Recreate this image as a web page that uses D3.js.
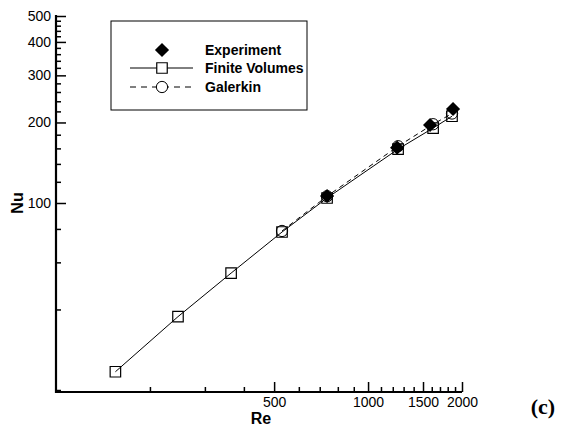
<!DOCTYPE html>
<html>
<head>
<meta charset="utf-8">
<script src="https://cdn.jsdelivr.net/npm/d3@7"></script>
<style>
  body { margin: 0; background: #fff; }
  svg { display: block; }
  text { font-family: "Liberation Sans", Arial, sans-serif; fill: #000; }
</style>
</head>
<body>
<svg id="chart" width="562" height="430"></svg>
<script>
// Reynolds numbers and Nusselt numbers for the three data sets
const reFV = [155, 246, 364, 530, 739, 1248, 1616, 1858];
const nuFV = [23.4, 37.6, 54.7, 77.9, 104.4, 159, 190.6, 211];

const reGalerkin = [530, 739, 1248, 1616, 1858];
const nuGalerkin = [78.6, 106, 163, 197, 216];

const reExp = [739, 1239, 1580, 1872];
const nuExp = [106.2, 161, 195.7, 224.6];

// Axis ticks
const xMajorTicks = [500, 1000, 1500, 2000];
const xMinorTicks = [200, 300, 400, 600, 700, 800, 900, 1100, 1200, 1300, 1400, 1600, 1700, 1800, 1900];
const yMajorTicks = [100, 200, 300, 400, 500];
const yMinorTicks = [20, 40, 60, 80, 120, 140, 160, 180, 220, 240, 260, 280, 320, 340, 360, 380, 420, 440, 460, 480];

const seriesNames = ["Experiment", "Finite Volumes", "Galerkin"];

const svg = d3.select("#chart");

const x = d3.scaleLog().domain([100, 2000]).range([56, 462]);
const y = d3.scaleLog().domain([20, 500]).range([390, 16]);

const x0 = 56, y0 = 392;

// Lines
const line = d3.line().x(d => x(d[0])).y(d => y(d[1]));

svg.append("path")
  .datum(d3.zip(reFV, nuFV))
  .attr("d", line)
  .attr("fill", "none")
  .attr("stroke", "#000")
  .attr("stroke-width", 1);

svg.append("path")
  .datum(d3.zip(reGalerkin, nuGalerkin))
  .attr("d", line)
  .attr("fill", "none")
  .attr("stroke", "#000")
  .attr("stroke-width", 1)
  .attr("stroke-dasharray", "5,4");

// Markers
const sq = d3.symbol().type(d3.symbolSquare).size(110);
const circ = d3.symbol().type(d3.symbolCircle).size(100);
const diam = d3.symbol().type(d3.symbolSquare).size(100);

svg.append("g").selectAll("path")
  .data(d3.zip(reGalerkin, nuGalerkin))
  .join("path")
  .attr("d", circ)
  .attr("transform", d => `translate(${x(d[0])},${y(d[1])})`)
  .attr("fill", "none")
  .attr("stroke", "#000")
  .attr("stroke-width", 1);

svg.append("g").selectAll("path")
  .data(d3.zip(reFV, nuFV))
  .join("path")
  .attr("d", sq)
  .attr("transform", d => `translate(${x(d[0])},${y(d[1])})`)
  .attr("fill", "none")
  .attr("stroke", "#000")
  .attr("stroke-width", 1.2);

svg.append("g").selectAll("path")
  .data(d3.zip(reExp, nuExp))
  .join("path")
  .attr("d", diam)
  .attr("transform", d => `translate(${x(d[0])},${y(d[1])}) rotate(45)`)
  .attr("fill", "#000");

// Axes with inward ticks
function styleAxis(g) {
  g.selectAll(".domain").remove();
  g.selectAll(".tick line").attr("stroke", "#000").attr("stroke-width", 1.5);
  g.selectAll(".tick text")
    .style("font-family", "'Liberation Sans', Arial, sans-serif")
    .style("font-size", "14px")
    .attr("fill", "#000");
}

svg.append("g")
  .attr("transform", `translate(0,${y0})`)
  .call(d3.axisBottom(x).tickValues(xMinorTicks).tickSize(-5).tickFormat(""))
  .call(styleAxis);

svg.append("g")
  .attr("transform", `translate(0,${y0})`)
  .call(d3.axisBottom(x).tickValues(xMajorTicks).tickSize(-10).tickFormat(d3.format("d")))
  .call(styleAxis)
  .call(g => g.selectAll(".tick text").attr("y", 5).attr("dy", "0.71em"));

svg.append("g")
  .attr("transform", `translate(${x0},0)`)
  .call(d3.axisLeft(y).tickValues(yMinorTicks).tickSize(-5).tickFormat(""))
  .call(styleAxis);

svg.append("g")
  .attr("transform", `translate(${x0},0)`)
  .call(d3.axisLeft(y).tickValues(yMajorTicks).tickSize(-10).tickFormat(d3.format("d")))
  .call(styleAxis)
  .call(g => g.selectAll(".tick text").attr("x", -5));

// Axis lines
svg.append("line").attr("x1", x0).attr("x2", x0).attr("y1", 15).attr("y2", y0 + 1)
  .attr("stroke", "#000").attr("stroke-width", 2.2);
svg.append("line").attr("x1", x0 - 1).attr("x2", x(2000)).attr("y1", y0).attr("y2", y0)
  .attr("stroke", "#000").attr("stroke-width", 2.2);

// Axis titles
svg.append("text")
  .attr("x", 261).attr("y", 424)
  .attr("text-anchor", "middle")
  .style("font-size", "16px").style("font-weight", "bold")
  .text("Re");

svg.append("text")
  .attr("transform", "translate(23,203) rotate(-90)")
  .attr("text-anchor", "middle")
  .style("font-size", "16px").style("font-weight", "bold")
  .text("Nu");

svg.append("text")
  .attr("x", 543).attr("y", 414)
  .attr("text-anchor", "middle")
  .style("font-family", "'Liberation Serif', 'Times New Roman', serif")
  .style("font-size", "22px").style("font-weight", "bold")
  .text("(c)");

// Legend
const legend = svg.append("g");
legend.append("rect")
  .attr("x", 111).attr("y", 21).attr("width", 196).attr("height", 89)
  .attr("fill", "#fff").attr("stroke", "#000").attr("stroke-width", 1);

const rowY = [50, 68, 87];
const lx1 = 130, lx2 = 193, lmx = 162;

legend.append("path").attr("d", diam)
  .attr("transform", `translate(${lmx},${rowY[0]}) rotate(45)`).attr("fill", "#000");

legend.append("line").attr("x1", lx1).attr("x2", lx2).attr("y1", rowY[1]).attr("y2", rowY[1])
  .attr("stroke", "#000").attr("stroke-width", 1);
legend.append("path").attr("d", sq)
  .attr("transform", `translate(${lmx},${rowY[1]})`)
  .attr("fill", "#fff").attr("stroke", "#000").attr("stroke-width", 1.2);

legend.append("line").attr("x1", lx1).attr("x2", lx2).attr("y1", rowY[2]).attr("y2", rowY[2])
  .attr("stroke", "#000").attr("stroke-width", 1).attr("stroke-dasharray", "6,5");
legend.append("path").attr("d", circ)
  .attr("transform", `translate(${lmx},${rowY[2]})`)
  .attr("fill", "#fff").attr("stroke", "#000").attr("stroke-width", 1);

legend.selectAll("text.lbl")
  .data(seriesNames)
  .join("text")
  .attr("class", "lbl")
  .attr("x", 205)
  .attr("y", (d, i) => rowY[i] + 5)
  .style("font-size", "14px").style("font-weight", "bold")
  .text(d => d);
</script>
</body>
</html>
